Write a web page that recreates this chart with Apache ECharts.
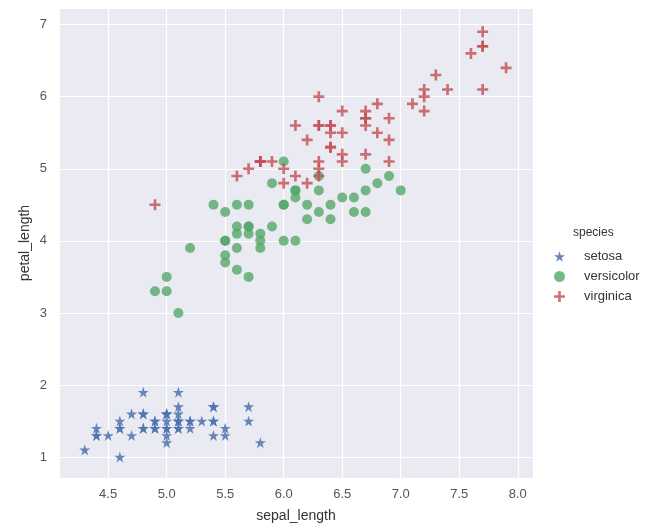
<!DOCTYPE html>
<html><head><meta charset="utf-8">
<script src="https://cdn.jsdelivr.net/npm/echarts@6/dist/echarts.min.js"></script>
<style>html,body{margin:0;padding:0;background:#fff}#c{width:663px;height:532px}</style>
</head><body><div id="c"></div>
<script>
const species = ['setosa','versicolor','virginica'];
const setosa = [[5.1,1.4],[4.9,1.4],[4.7,1.3],[4.6,1.5],[5.0,1.4],[5.4,1.7],[4.6,1.4],[5.0,1.5],[4.4,1.4],[4.9,1.5],[5.4,1.5],[4.8,1.6],[4.8,1.4],[4.3,1.1],[5.8,1.2],[5.7,1.5],[5.4,1.3],[5.1,1.4],[5.7,1.7],[5.1,1.5],[5.4,1.7],[5.1,1.5],[4.6,1.0],[5.1,1.7],[4.8,1.9],[5.0,1.6],[5.0,1.6],[5.2,1.5],[5.2,1.4],[4.7,1.6],[4.8,1.6],[5.4,1.5],[5.2,1.5],[5.5,1.4],[4.9,1.5],[5.0,1.2],[5.5,1.3],[4.9,1.4],[4.4,1.3],[5.1,1.5],[5.0,1.3],[4.5,1.3],[4.4,1.3],[5.0,1.6],[5.1,1.9],[4.8,1.4],[5.1,1.6],[4.6,1.4],[5.3,1.5],[5.0,1.4]];
const versicolor = [[7.0,4.7],[6.4,4.5],[6.9,4.9],[5.5,4.0],[6.5,4.6],[5.7,4.5],[6.3,4.7],[4.9,3.3],[6.6,4.6],[5.2,3.9],[5.0,3.5],[5.9,4.2],[6.0,4.0],[6.1,4.7],[5.6,3.6],[6.7,4.4],[5.6,4.5],[5.8,4.1],[6.2,4.5],[5.6,3.9],[5.9,4.8],[6.1,4.0],[6.3,4.9],[6.1,4.7],[6.4,4.3],[6.6,4.4],[6.8,4.8],[6.7,5.0],[6.0,4.5],[5.7,3.5],[5.5,3.8],[5.5,3.7],[5.8,3.9],[6.0,5.1],[5.4,4.5],[6.0,4.5],[6.7,4.7],[6.3,4.4],[5.6,4.1],[5.5,4.0],[5.5,4.4],[6.1,4.6],[5.8,4.0],[5.0,3.3],[5.6,4.2],[5.7,4.2],[5.7,4.2],[6.2,4.3],[5.1,3.0],[5.7,4.1]];
const virginica = [[6.3,6.0],[5.8,5.1],[7.1,5.9],[6.3,5.6],[6.5,5.8],[7.6,6.6],[4.9,4.5],[7.3,6.3],[6.7,5.8],[7.2,6.1],[6.5,5.1],[6.4,5.3],[6.8,5.5],[5.7,5.0],[5.8,5.1],[6.4,5.3],[6.5,5.5],[7.7,6.7],[7.7,6.9],[6.0,5.0],[6.9,5.7],[5.6,4.9],[7.7,6.7],[6.3,4.9],[6.7,5.7],[7.2,6.0],[6.2,4.8],[6.1,4.9],[6.4,5.6],[7.2,5.8],[7.4,6.1],[7.9,6.4],[6.4,5.6],[6.3,5.1],[6.1,5.6],[7.7,6.1],[6.3,5.6],[6.4,5.5],[6.0,4.8],[6.9,5.4],[6.7,5.6],[6.9,5.1],[5.8,5.1],[6.8,5.9],[6.7,5.7],[6.7,5.2],[6.3,5.0],[6.5,5.2],[6.2,5.4],[5.9,5.1]];
const xTicks = [4.5,5.0,5.5,6.0,6.5,7.0,7.5,8.0];
const yTicks = [1,2,3,4,5,6,7];

const STAR = 'path://M50,0 L61.2,34.5 L97.6,34.5 L68.2,55.9 L79.4,90.5 L50,69.1 L20.6,90.5 L31.8,55.9 L2.4,34.5 L38.8,34.5 Z';
const PLUS = 'path://M38,0H62V38H100V62H62V100H38V62H0V38H38Z';
const colors = ['#4C72B0','#55A868','#C44E52'];
const font = 'Liberation Sans, Arial, sans-serif';

function fmtX(v){ return xTicks.some(t=>Math.abs(t-v)<1e-6) ? v.toFixed(1) : ''; }
function fmtY(v){ return yTicks.some(t=>Math.abs(t-v)<1e-6) ? String(v) : ''; }

const chart = echarts.init(document.getElementById('c'));
chart.setOption({
  animation:false,
  grid:{left:59,right:130,top:8,bottom:54,show:true,backgroundColor:'#EAEAF2',borderWidth:0},
  xAxis:{type:'value',min:4.08,max:8.13,minInterval:0.5,maxInterval:0.5,splitNumber:8,
    name:'sepal_length',nameLocation:'middle',nameGap:31,
    nameTextStyle:{fontFamily:font,fontSize:14,color:'#333'},
    axisLine:{show:false},axisTick:{show:false},
    axisLabel:{formatter:fmtX,fontFamily:font,fontSize:13,color:'#555',margin:10,showMinLabel:false,showMaxLabel:false},
    splitLine:{show:true,lineStyle:{color:'#fff',width:1.2}}
  },
  yAxis:{type:'value',min:0.71,max:7.23,minInterval:1,maxInterval:1,splitNumber:6,
    name:'petal_length',nameLocation:'middle',nameGap:27,nameMoveOverlap:false,
    nameTextStyle:{fontFamily:font,fontSize:14,color:'#333'},
    axisLine:{show:false},axisTick:{show:false},
    axisLabel:{formatter:fmtY,fontFamily:font,fontSize:13,color:'#555',margin:12,showMinLabel:false,showMaxLabel:false},
    splitLine:{show:true,lineStyle:{color:'#fff',width:1.2}}
  },
  legend:{orient:'vertical',left:549,top:245,itemGap:7,itemWidth:11,itemHeight:11,
    textStyle:{fontFamily:font,fontSize:13,color:'#333',padding:[0,0,0,14]},
    data:species},
  graphic:[{type:'text',left:573,top:227,style:{text:'species',font:'12px '+font,fill:'#333'}}],
  series:[
    {name:'setosa',type:'scatter',data:setosa,symbol:STAR,symbolSize:11,itemStyle:{color:colors[0],opacity:0.85}},
    {name:'versicolor',type:'scatter',data:versicolor,symbol:'circle',symbolSize:10,itemStyle:{color:colors[1],opacity:0.8}},
    {name:'virginica',type:'scatter',data:virginica,symbol:PLUS,symbolSize:11,itemStyle:{color:colors[2],opacity:0.8}}
  ]
});
</script></body></html>
